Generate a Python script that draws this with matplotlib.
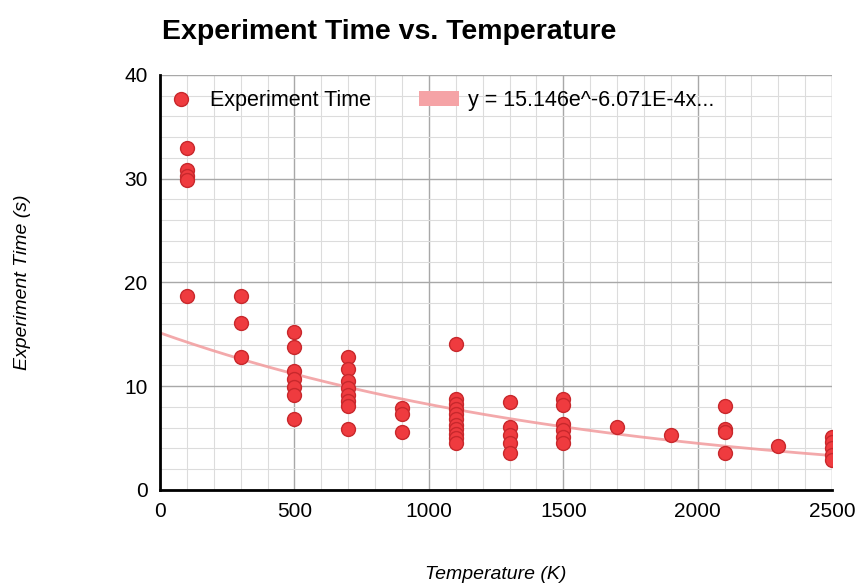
import numpy as np
import matplotlib.pyplot as plt
from matplotlib.patches import Patch
from matplotlib.lines import Line2D
from matplotlib.ticker import MultipleLocator

plt.rcParams['font.family'] = ['Liberation Sans', 'DejaVu Sans']

# temperature (K) and experiment time (s)
temps = [100, 100, 100, 100, 100,
         300, 300, 300,
         500, 500, 500, 500, 500, 500, 500,
         700, 700, 700, 700, 700, 700, 700, 700,
         900, 900, 900,
         1100, 1100, 1100, 1100, 1100, 1100, 1100, 1100, 1100, 1100, 1100,
         1300, 1300, 1300, 1300, 1300,
         1500, 1500, 1500, 1500, 1500, 1500,
         1700, 1900,
         2100, 2100, 2100, 2100,
         2300,
         2500, 2500, 2500, 2500, 2500]
times = [33.0, 30.8, 30.3, 29.9, 18.7,
         18.7, 16.1, 12.8,
         15.2, 13.8, 11.5, 10.7, 9.9, 9.2, 6.8,
         12.8, 11.7, 10.5, 9.8, 9.2, 8.6, 8.1, 5.9,
         7.9, 7.3, 5.6,
         14.1, 8.8, 8.3, 7.8, 7.3, 6.8, 6.3, 5.9, 5.4, 5.0, 4.5,
         8.5, 6.1, 5.3, 4.5, 3.6,
         8.8, 8.2, 6.4, 5.8, 5.1, 4.5,
         6.1, 5.3,
         8.1, 5.9, 5.6, 3.6,
         4.2,
         5.1, 4.6, 4.0, 3.4, 2.9]

# exponential trendline from the legend
fit_a = 15.146
fit_b = -6.071e-4
fit_label = 'y = 15.146e^-6.071E-4x...'

fig = plt.figure(figsize=(8.57, 5.85), dpi=100)
ax = fig.add_axes([0.1867, 0.1624, 0.7843, 0.7094])

xs = np.linspace(0, 2500, 200)
ax.plot(xs, fit_a * np.exp(fit_b * xs), color='#f29a9c', lw=2, alpha=0.85, zorder=2)
ax.scatter(temps, times, s=100, color='#ef3b3f', edgecolors='#c8282c', linewidths=1.0, zorder=3)

ax.set_xlim(0, 2500)
ax.set_ylim(0, 40)
ax.xaxis.set_major_locator(MultipleLocator(500))
ax.xaxis.set_minor_locator(MultipleLocator(100))
ax.yaxis.set_major_locator(MultipleLocator(10))
ax.yaxis.set_minor_locator(MultipleLocator(2))
ax.grid(which='major', color='#a8a8a8', lw=1.0)
ax.grid(which='minor', color='#dcdcdc', lw=0.8)
ax.set_axisbelow(True)
ax.tick_params(which='both', length=0, labelsize=15, pad=9)

for s in ['top', 'right']:
    ax.spines[s].set_visible(False)
ax.spines['left'].set_linewidth(2)
ax.spines['bottom'].set_linewidth(2)

ax.set_xlabel('Temperature (K)', fontsize=14, style='italic', labelpad=32)
ax.set_ylabel('Experiment Time (s)', fontsize=14, style='italic', labelpad=67)
fig.text(0.189, 0.945, 'Experiment Time vs. Temperature', fontsize=20.5, fontweight='bold',
         va='center')

handles = [Line2D([], [], ls='', marker='o', ms=10, color='#ef3b3f', mec='#c8282c'),
           Patch(facecolor='#f5a3a6', edgecolor='none')]
ax.legend(handles, ['Experiment Time', fit_label], ncol=2, frameon=False,
          loc='upper left', bbox_to_anchor=(-0.027, 1.01), fontsize=15.5,
          handlelength=1.85, columnspacing=2.25, handletextpad=0.4)

fig.savefig('out.png', dpi=100)
